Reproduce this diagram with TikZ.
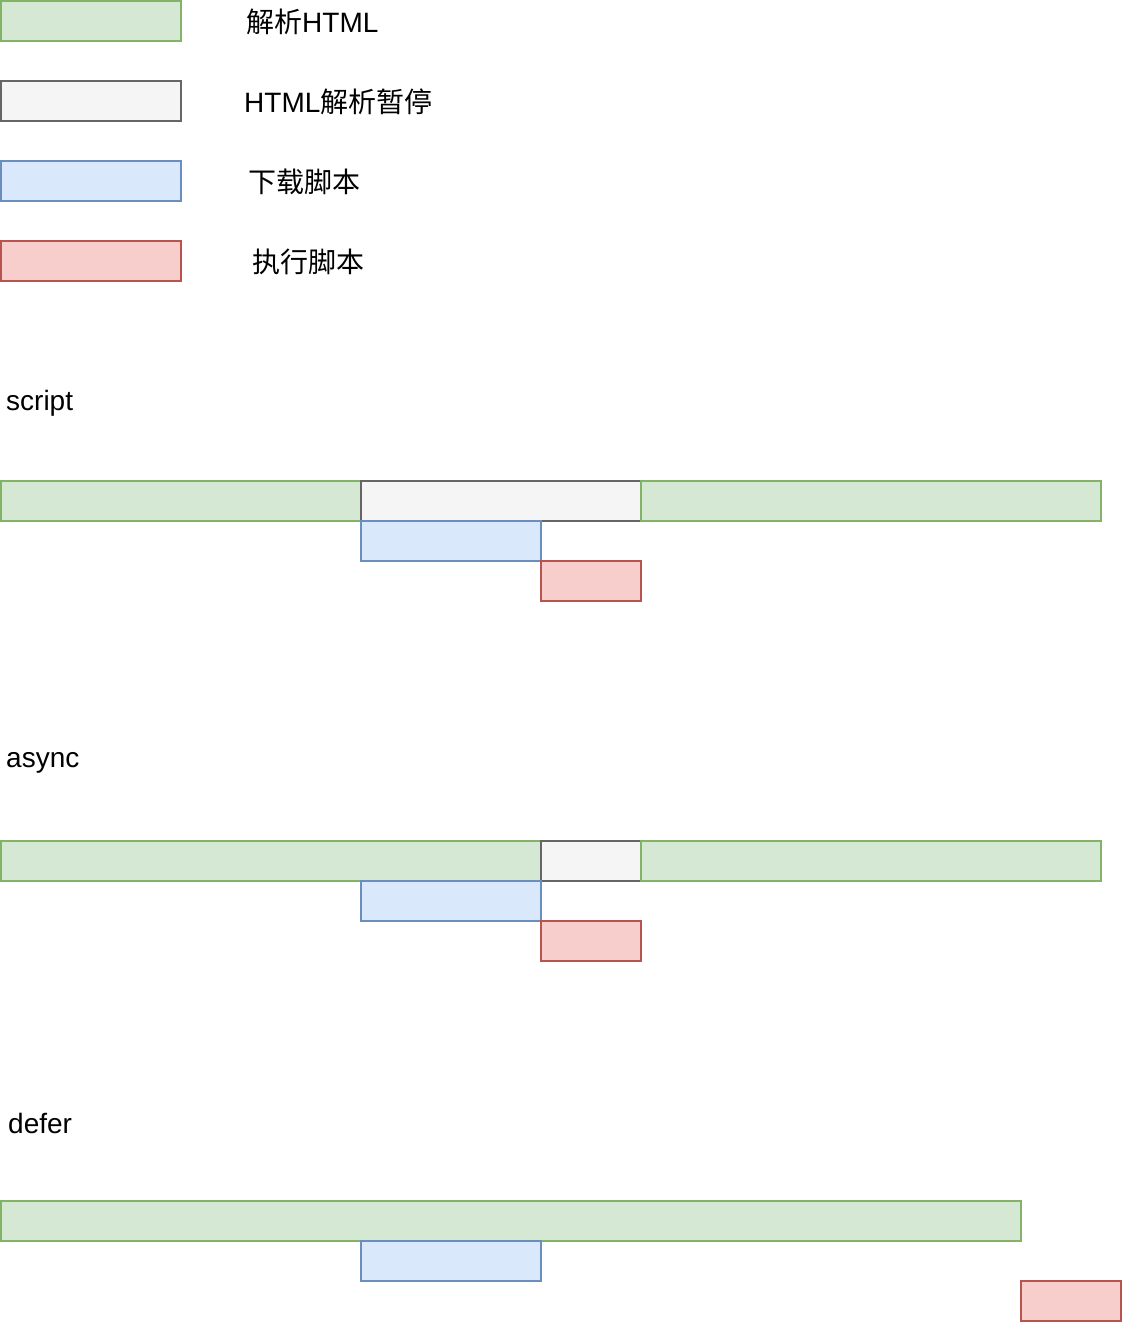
\documentclass[tikz,border=0pt]{standalone}
\usepackage{fontspec}
\setmainfont{Liberation Sans}
\newfontfamily\cjk{Noto Sans CJK SC}
\definecolor{parsefill}{HTML}{D5E8D4}
\definecolor{parseline}{HTML}{82B366}
\definecolor{pausefill}{HTML}{F5F5F5}
\definecolor{pauseline}{HTML}{666666}
\definecolor{loadfill}{HTML}{DAE8FC}
\definecolor{loadline}{HTML}{6C8EBF}
\definecolor{runfill}{HTML}{F8CECC}
\definecolor{runline}{HTML}{B85450}
\tikzset{
  bar/.style={anchor=north west, inner sep=0pt, outer sep=0pt, line width=1.3pt, minimum height=40pt},
  parse/.style={bar, draw=parseline, fill=parsefill},
  pause/.style={bar, draw=pauseline, fill=pausefill},
  load/.style={bar, draw=loadline, fill=loadfill},
  run/.style={bar, draw=runline, fill=runfill},
  label/.style={anchor=west, inner sep=0pt, font=\fontsize{28}{32}\selectfont}
}
\begin{document}
\begin{tikzpicture}[x=1pt, y=-1pt]
  \useasboundingbox (0,0) rectangle (1122,1322);
  % legend
  \node[parse, minimum width=180pt] (kparse) at (1,1) {};
  \node[pause, minimum width=180pt] (kpause) at (1,81) {};
  \node[load, minimum width=180pt] (kload) at (1,161) {};
  \node[run, minimum width=180pt] (krun) at (1,241) {};
  \node[label] (tparse) at (246,22) {{\cjk 解析}HTML};
  \node[label] (tpause) at (244,102) {HTML{\cjk 解析暂停}};
  \node[label] (tload) at (248,182) {\cjk 下载脚本};
  \node[label] (trun) at (252,262) {\cjk 执行脚本};
  % script
  \node[label] (tscript) at (6,403) {script};
  \node[parse, minimum width=360pt] (sparse1) at (1,481) {};
  \node[pause, minimum width=280pt] (spause) at (361,481) {};
  \node[parse, minimum width=460pt] (sparse2) at (641,481) {};
  \node[load, minimum width=180pt] (sload) at (361,521) {};
  \node[run, minimum width=100pt] (srun) at (541,561) {};
  % async
  \node[label] (tasync) at (6,763) {async};
  \node[parse, minimum width=540pt] (aparse1) at (1,841) {};
  \node[pause, minimum width=100pt] (apause) at (541,841) {};
  \node[parse, minimum width=460pt] (aparse2) at (641,841) {};
  \node[load, minimum width=180pt] (aload) at (361,881) {};
  \node[run, minimum width=100pt] (arun) at (541,921) {};
  % defer
  \node[label] (tdefer) at (8,1123) {defer};
  \node[parse, minimum width=1020pt] (dparse) at (1,1201) {};
  \node[load, minimum width=180pt] (dload) at (361,1241) {};
  \node[run, minimum width=100pt] (drun) at (1021,1281) {};
\end{tikzpicture}
\end{document}
